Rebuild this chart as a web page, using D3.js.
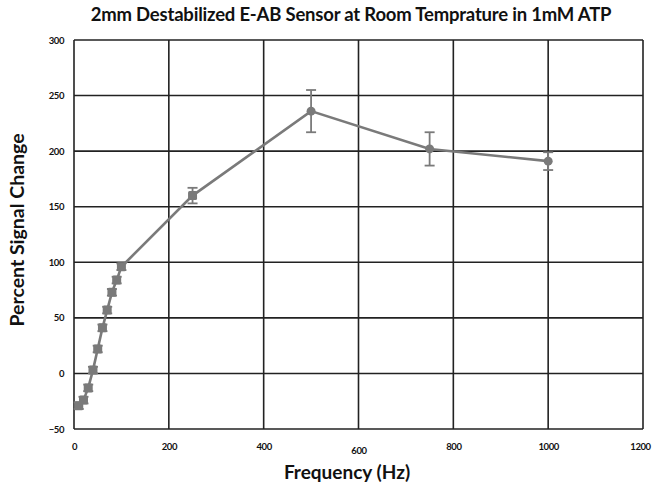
<!DOCTYPE html>
<html>
<head>
<meta charset="utf-8">
<script src="https://cdn.jsdelivr.net/npm/d3@7/dist/d3.min.js"></script>
<style>
  html, body { margin: 0; padding: 0; background: #fff; }
  svg { display: block; font-family: Lato, "Open Sans", sans-serif; }
</style>
</head>
<body>
<svg id="chart" width="653" height="490"></svg>
<script>
// Frequency sweep (Hz) and mean percent signal change with error half-widths
const frequencies = [10, 20, 30, 40, 50, 60, 70, 80, 90, 100, 250, 500, 750, 1000];
const signalChange = [-29, -24, -13, 3, 22, 41, 57, 73, 84, 96, 160, 236, 202, 191];
const errors = [3, 3, 3, 3, 3, 3, 3, 3, 3, 3, 7, 19, 15, 8];
const xTicks = [0, 200, 400, 600, 800, 1000, 1200];
const yTicks = [-50, 0, 50, 100, 150, 200, 250, 300];

const svg = d3.select("#chart");

const x = d3.scaleLinear().domain([0, 1200]).range([74, 643]);
const y = d3.scaleLinear().domain([-50, 300]).range([429, 40]);

const ink = "#222";
const markColor = "#7a7a7a";

// Gridlines
svg.append("g").selectAll("line").data(xTicks).join("line")
  .attr("x1", d => x(d)).attr("x2", d => x(d))
  .attr("y1", y(300)).attr("y2", y(-50))
  .attr("stroke", ink).attr("stroke-width", 1.6);
svg.append("g").selectAll("line").data(yTicks).join("line")
  .attr("x1", x(0)).attr("x2", x(1200))
  .attr("y1", d => y(d)).attr("y2", d => y(d))
  .attr("stroke", ink).attr("stroke-width", 1.6);

// Axes (labels only)
const xAxis = svg.append("g").attr("transform", `translate(0,${y(-50)})`)
  .call(d3.axisBottom(x).tickValues(xTicks).tickSize(0).tickPadding(14).tickFormat(d3.format("d")));
const yAxis = svg.append("g").attr("transform", `translate(${x(0)},0)`)
  .call(d3.axisLeft(y).tickValues(yTicks).tickSize(0).tickPadding(10).tickFormat(d3.format("d")));
[xAxis, yAxis].forEach(g => {
  g.select(".domain").remove();
  g.selectAll("text").attr("font-size", 9.5).attr("font-weight", 700)
    .attr("letter-spacing", -0.4)
    .attr("fill", "#111").attr("font-family", "Lato, sans-serif");
});
xAxis.selectAll(".tick").filter(d => d === 1200).select("text").attr("dx", -3);
xAxis.selectAll(".tick").filter(d => d === 600).select("text").attr("dy", "1.2em");

const pts = frequencies.map((f, i) => ({ f, v: signalChange[i], e: errors[i] }));

// Connecting line
svg.append("path").datum(pts)
  .attr("fill", "none").attr("stroke", markColor).attr("stroke-width", 2.6)
  .attr("d", d3.line().x(d => x(d.f)).y(d => y(d.v)));

// Error bars
const eb = svg.append("g").attr("stroke", markColor).attr("stroke-width", 1.8);
eb.selectAll("line.stem").data(pts).join("line").attr("class", "stem")
  .attr("x1", d => x(d.f)).attr("x2", d => x(d.f))
  .attr("y1", d => y(d.v + d.e)).attr("y2", d => y(d.v - d.e));
eb.selectAll("line.capT").data(pts).join("line").attr("class", "capT")
  .attr("x1", d => x(d.f) - 5).attr("x2", d => x(d.f) + 5)
  .attr("y1", d => y(d.v + d.e)).attr("y2", d => y(d.v + d.e));
eb.selectAll("line.capB").data(pts).join("line").attr("class", "capB")
  .attr("x1", d => x(d.f) - 5).attr("x2", d => x(d.f) + 5)
  .attr("y1", d => y(d.v - d.e)).attr("y2", d => y(d.v - d.e));

// Markers
svg.append("g").selectAll("rect").data(pts).join("rect")
  .attr("x", d => x(d.f) - 4.5).attr("y", d => y(d.v) - 4.5)
  .attr("width", 9).attr("height", 9)
  .attr("rx", d => d.f >= 500 ? 4.5 : 1.5)
  .attr("fill", markColor);

// Titles
svg.append("text").attr("x", 351).attr("y", 21).attr("text-anchor", "middle")
  .attr("font-size", 18.5).attr("font-weight", 700).attr("fill", "#111")
  .attr("letter-spacing", -0.2)
  .text("2mm Destabilized E-AB Sensor at Room Temprature in 1mM ATP");
svg.append("text").attr("x", 347).attr("y", 479).attr("text-anchor", "middle")
  .attr("font-size", 19).attr("font-weight", 700).attr("fill", "#111")
  .text("Frequency (Hz)");
svg.append("text").attr("transform", "translate(24,230) rotate(-90)")
  .attr("text-anchor", "middle")
  .attr("font-size", 19.5).attr("font-weight", 700).attr("fill", "#111")
  .text("Percent Signal Change");
</script>
</body>
</html>
